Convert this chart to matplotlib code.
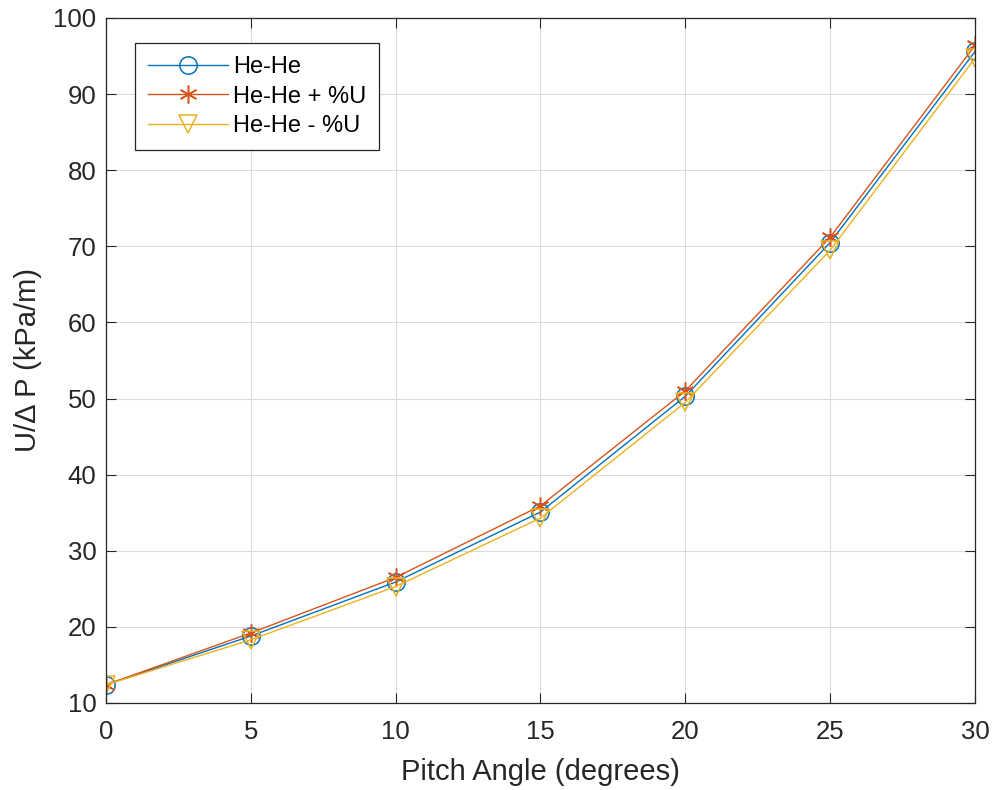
import matplotlib.pyplot as plt

plt.rcParams['font.family'] = ['Liberation Sans', 'DejaVu Sans']

# datos
angulos = [0, 5, 10, 15, 20, 25, 30]
he_he = [12.4, 18.8, 25.9, 35.1, 50.3, 70.5, 95.6]
he_he_mas = [12.4, 19.2, 26.5, 35.9, 51.0, 71.2, 96.4]
he_he_menos = [12.4, 18.3, 25.3, 34.3, 49.5, 69.5, 94.7]

fig = plt.figure(figsize=(9.95, 7.9), dpi=100)
ax = fig.add_axes([106 / 995, 1 - 703 / 790, (975 - 106) / 995, (703 - 18) / 790])

ax.plot(angulos, he_he, color='#0072BD', lw=1, marker='o', ms=12.5, mfc='none', mew=1.1, label='He-He')
ax.plot(angulos, he_he_mas, color='#D95319', lw=1, marker=(6, 2, 0), ms=13, mfc='none', mew=1.1,
        label='He-He + %U')
ax.plot(angulos, he_he_menos, color='#EDB120', lw=1, marker='v', ms=13, mfc='none', mew=1.1,
        label='He-He - %U')

ax.set_xlim(0, 30)
ax.set_ylim(10, 100)
ax.set_xticks(range(0, 31, 5))
ax.set_yticks(range(10, 101, 10))
ax.grid(True, color='#dcdcdc', lw=0.8)
ax.set_axisbelow(True)
ax.tick_params(direction='in', labelsize=18.5, colors='#262626', length=7, top=True, right=True,
               labeltop=False, labelright=False)
ax.tick_params(axis='x', pad=12)
ax.tick_params(axis='y', pad=7)
for s in ax.spines.values():
    s.set_color('#262626')
    s.set_linewidth(0.9)

ax.set_xlabel('Pitch Angle (degrees)', fontsize=21, color='#262626', labelpad=10)
ax.set_ylabel('U/\u0394 P (kPa/m)', fontsize=21, color='#262626', labelpad=8)

leg = ax.legend(loc='upper left', bbox_to_anchor=(0.033, 0.9635), borderaxespad=0, fontsize=17,
                fancybox=False, edgecolor='#262626', framealpha=1, handlelength=3.4,
                handletextpad=0.2, borderpad=0.55, labelspacing=0.32)
leg.get_frame().set_linewidth(0.9)

fig.savefig('out.png', dpi=100)
